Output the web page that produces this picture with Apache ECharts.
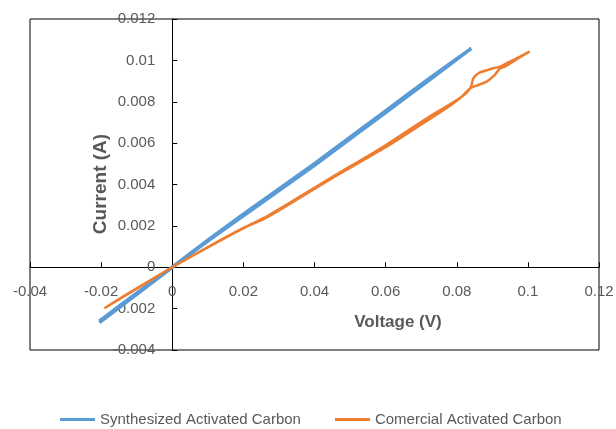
<!DOCTYPE html>
<html>
<head>
<meta charset="utf-8">
<script src="https://cdn.jsdelivr.net/npm/echarts@6/dist/echarts.min.js"></script>
<style>
  html, body { margin: 0; padding: 0; background: #fff; }
  #chart { width: 616px; height: 429px; }
</style>
</head>
<body>
<div id="chart"></div>
<script>
// sweep data: voltage (V) and current (A)
const synthVoltage = [-0.0205, -0.01, 0, 0.01, 0.02, 0.04, 0.06, 0.072, 0.0841,
  0.072, 0.06, 0.04, 0.02, 0.01, 0, -0.01, -0.0205]
const synthCurrent = [-0.00268, -0.00131, 0, 0.00131, 0.00256, 0.00501, 0.00756, 0.00909, 0.01058,
  0.00901, 0.00748, 0.00493, 0.00249, 0.00126, 0, -0.00125, -0.00261]

const comVoltage = [-0.0191, -0.01, 0, 0.01, 0.02, 0.027, 0.0444, 0.06, 0.0716, 0.0811, 0.0838,
  0.0847, 0.0861, 0.088, 0.0903, 0.0922, 0.0945, 0.0978, 0.1005,
  0.0978, 0.0935, 0.0922, 0.0907, 0.0884, 0.0861, 0.0838, 0.0811, 0.078, 0.07, 0.06, 0.0444, 0.027, 0.02, 0.01, 0, -0.01, -0.0191]
const comCurrent = [-0.00198, -0.00104, 0, 0.00098, 0.0019, 0.0025, 0.0043, 0.0059, 0.0072, 0.0082, 0.00865,
  0.00914, 0.00938, 0.0095, 0.00962, 0.0097, 0.0099, 0.01018, 0.01042,
  0.01016, 0.0097, 0.00962, 0.0093, 0.00897, 0.00881, 0.00865, 0.0082, 0.0078, 0.0069, 0.0058, 0.00425, 0.00245, 0.00188, 0.00096, 0, -0.00102, -0.00198]

const seriesNames = ['Synthesized Activated Carbon', 'Comercial Activated Carbon']
const xTicks = { min: -0.04, max: 0.12, interval: 0.02 }
const yTicks = { min: -0.004, max: 0.012, interval: 0.002 }

const toPairs = (xs, ys) => xs.map((x, i) => [x, ys[i]])

const W = 616, H = 429
const grid = { left: 30, top: 19, right: 17, bottom: 79 }
const gridW = W - grid.left - grid.right
const gridH = H - grid.top - grid.bottom
// axes cross at zero, labels sit next to the crossing lines
const xAxisOffset = -gridH * (0 - yTicks.min) / (yTicks.max - yTicks.min)
const yAxisOffset = -gridW * (0 - xTicks.min) / (xTicks.max - xTicks.min)

const chart = echarts.init(document.getElementById('chart'), null, { renderer: 'canvas' })

const labelFont = {
  color: '#595959',
  fontFamily: 'Liberation Sans',
  fontSize: 15
}

const option = {
  animation: false,
  backgroundColor: '#fff',
  grid: {
    ...grid,
    show: true,
    borderColor: '#000',
    borderWidth: 1,
    containLabel: false,
    outerBoundsMode: 'none'
  },
  legend: {
    left: 55,
    top: 407,
    itemGap: 34,
    itemWidth: 35,
    itemHeight: 3,
    icon: 'rect',
    textStyle: { ...labelFont },
    data: seriesNames
  },
  xAxis: {
    type: 'value',
    ...xTicks,
    position: 'bottom',
    offset: xAxisOffset,
    axisLine: { onZero: false, lineStyle: { color: '#000', width: 1 } },
    axisTick: { inside: true, length: 5, lineStyle: { color: '#000' } },
    axisLabel: { ...labelFont, margin: 17 },
    splitLine: { show: false }
  },
  yAxis: {
    type: 'value',
    ...yTicks,
    position: 'left',
    offset: yAxisOffset,
    axisLine: { onZero: false, lineStyle: { color: '#000', width: 1 } },
    axisTick: { inside: true, length: 5, lineStyle: { color: '#000' } },
    axisLabel: { ...labelFont, margin: 17 },
    splitLine: { show: false }
  },
  graphic: [
    {
      type: 'text',
      x: 398,
      y: 322,
      style: {
        text: 'Voltage (V)',
        fill: '#595959',
        font: 'bold 17px "Liberation Sans"',
        align: 'center',
        verticalAlign: 'middle'
      }
    },
    {
      type: 'text',
      x: 101,
      y: 184,
      rotation: Math.PI / 2,
      style: {
        text: 'Current (A)',
        fill: '#595959',
        font: 'bold 19px "Liberation Sans"',
        align: 'center',
        verticalAlign: 'middle'
      }
    }
  ],
  series: [
    {
      name: seriesNames[0],
      type: 'line',
      data: toPairs(synthVoltage, synthCurrent),
      showSymbol: false,
      smooth: 0.2,
      lineStyle: { color: '#5B9BD5', width: 3.5 },
      itemStyle: { color: '#5B9BD5' }
    },
    {
      name: seriesNames[1],
      type: 'line',
      data: toPairs(comVoltage, comCurrent),
      showSymbol: false,
      smooth: 0.3,
      lineStyle: { color: '#ED7D31', width: 2.5 },
      itemStyle: { color: '#ED7D31' }
    }
  ]
}

chart.setOption(option)
</script>
</body>
</html>
